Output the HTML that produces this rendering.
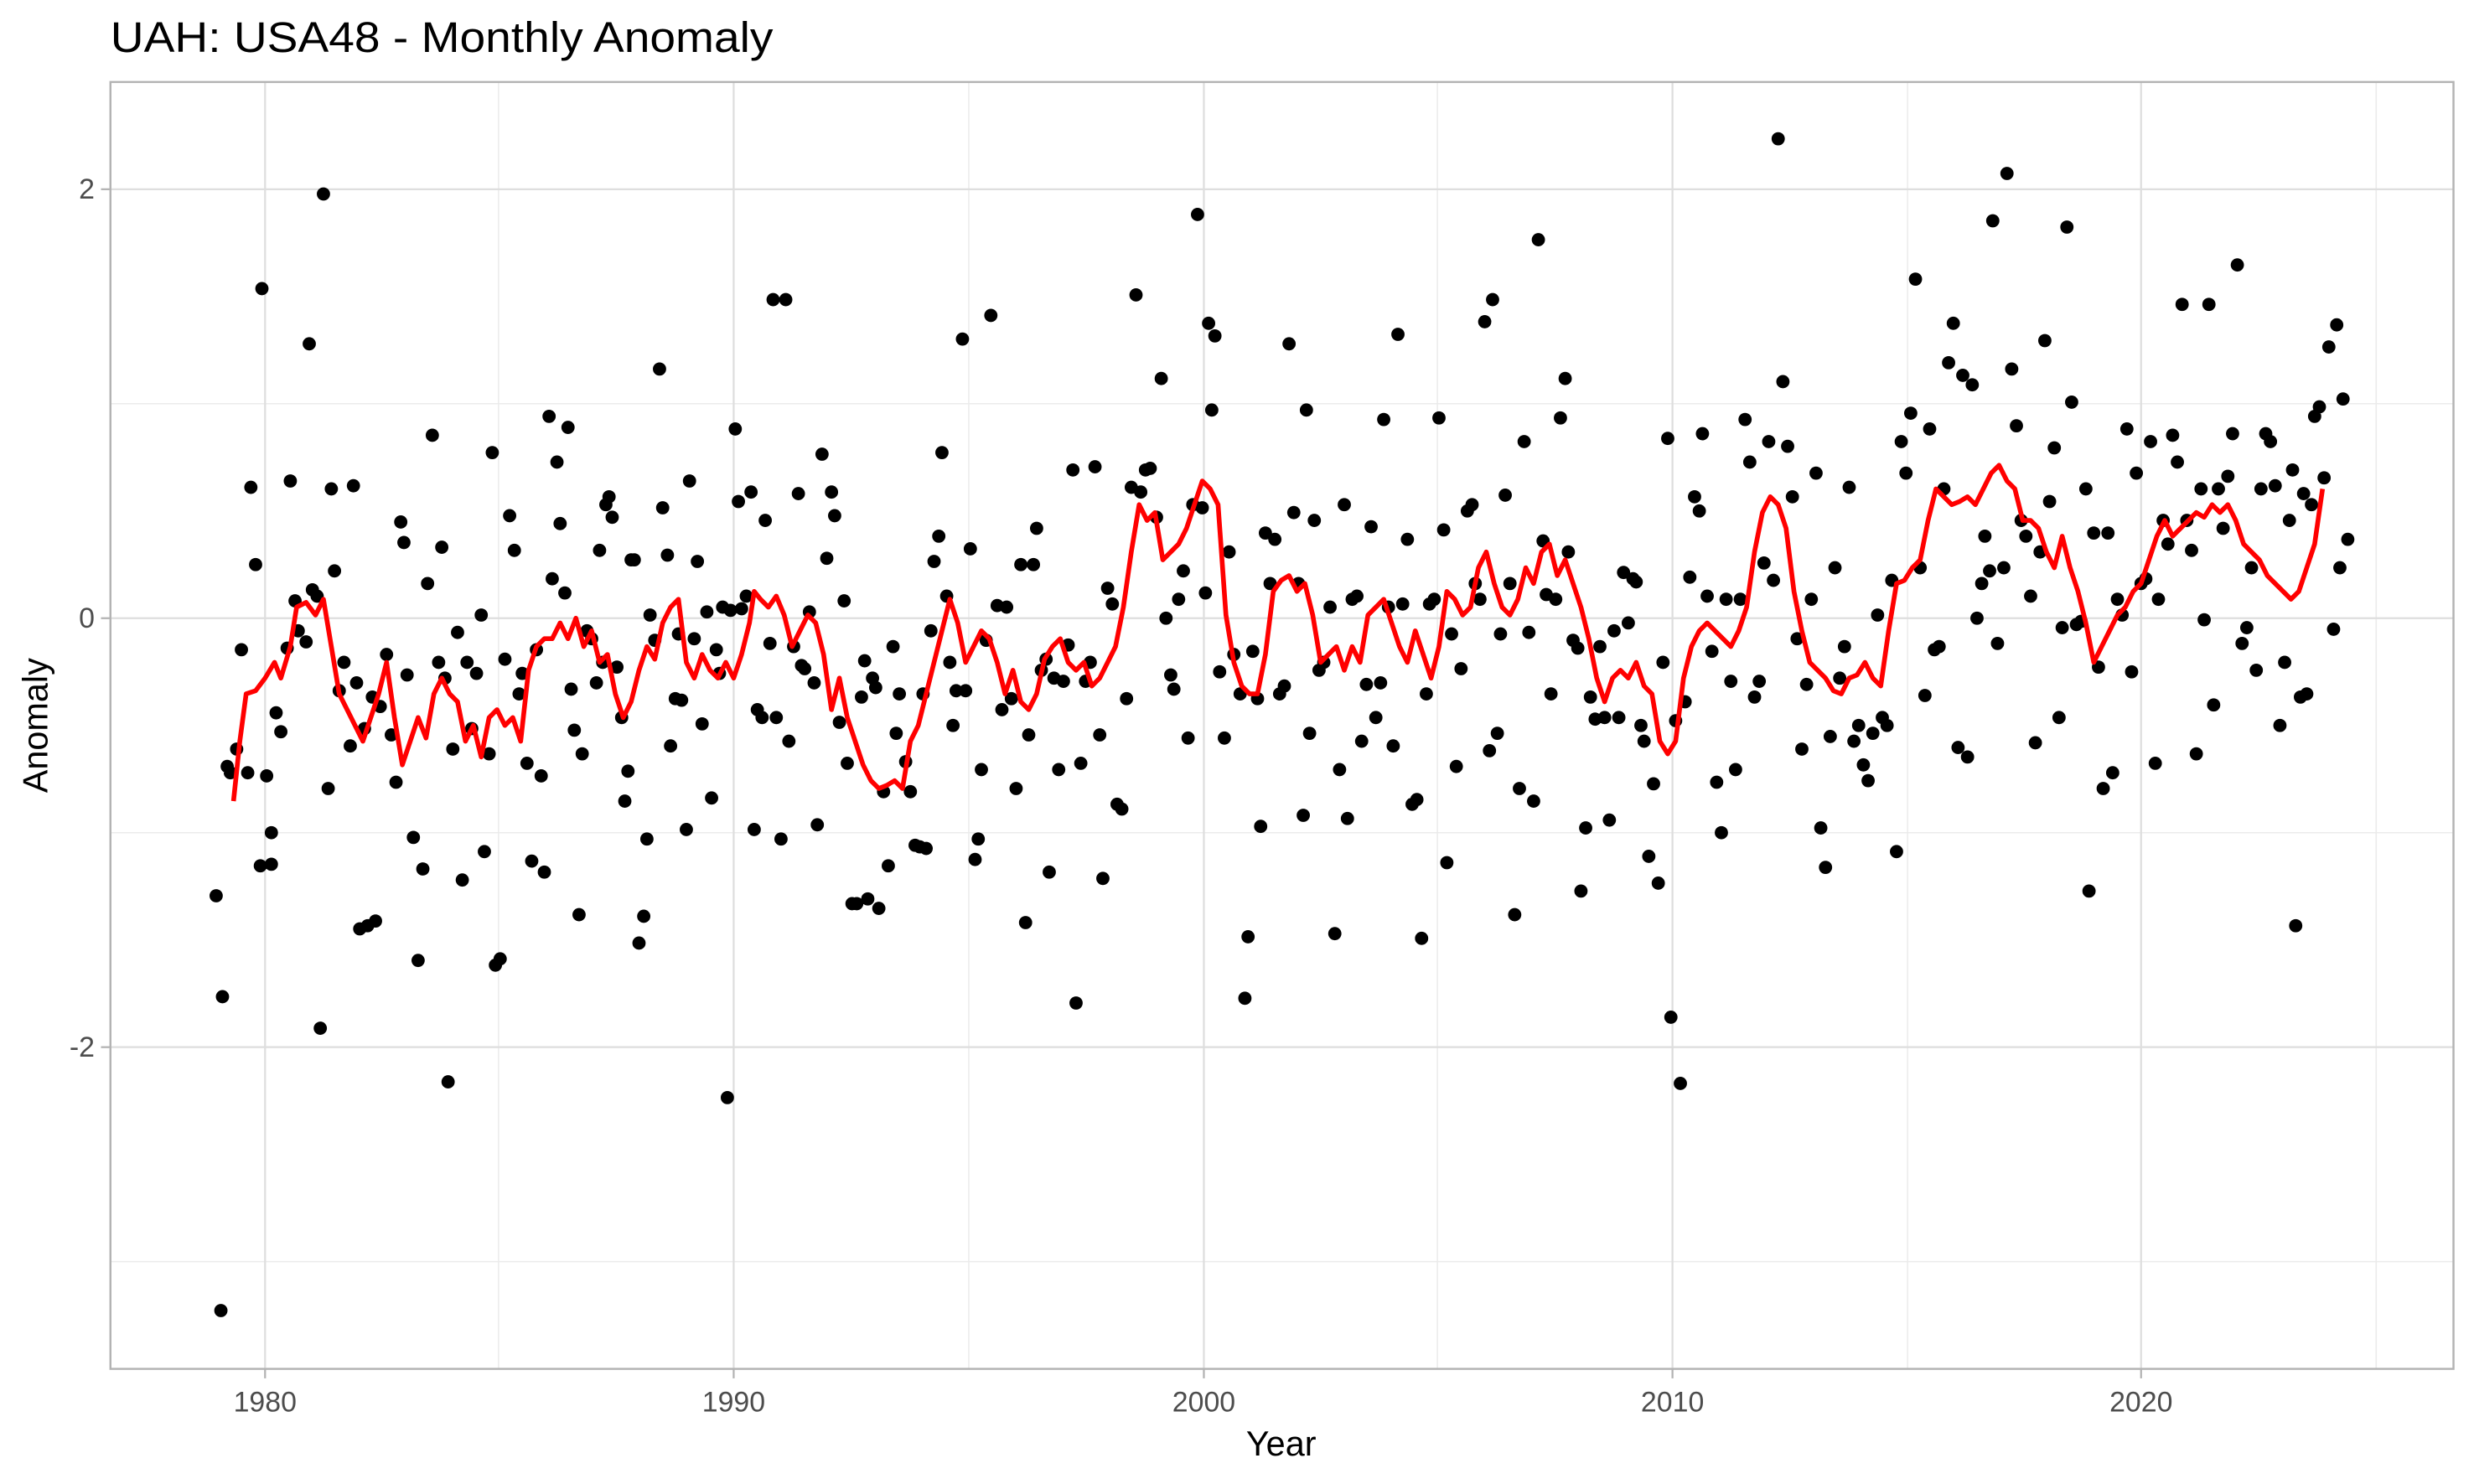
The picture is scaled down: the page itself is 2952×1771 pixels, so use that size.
<!DOCTYPE html>
<html><head><meta charset="utf-8"><style>html,body{margin:0;padding:0;background:#fff}svg{display:block}</style></head>
<body>
<svg xmlns="http://www.w3.org/2000/svg" width="2952" height="1771" viewBox="0 0 1568 941" preserveAspectRatio="none" font-family="Liberation Sans, sans-serif">
<rect width="1568" height="941" fill="#fff"/>
<g stroke="#ebebeb" stroke-width="0.8">
<line x1="70" x2="1555" y1="256" y2="256"/><line x1="70" x2="1555" y1="528" y2="528"/><line x1="70" x2="1555" y1="800" y2="800"/>
<line y1="52" y2="868" x1="316" x2="316"/><line y1="52" y2="868" x1="614" x2="614"/><line y1="52" y2="868" x1="911" x2="911"/><line y1="52" y2="868" x1="1209" x2="1209"/><line y1="52" y2="868" x1="1506" x2="1506"/>
</g>
<g stroke="#dedede" stroke-width="1.2">
<line x1="70" x2="1555" y1="120" y2="120"/><line x1="70" x2="1555" y1="392" y2="392"/><line x1="70" x2="1555" y1="664" y2="664"/>
<line y1="52" y2="868" x1="168" x2="168"/><line y1="52" y2="868" x1="465" x2="465"/><line y1="52" y2="868" x1="763" x2="763"/><line y1="52" y2="868" x1="1060" x2="1060"/><line y1="52" y2="868" x1="1357" x2="1357"/>
</g>
<rect x="70" y="52" width="1485" height="816" fill="none" stroke="#b3b3b3" stroke-width="1.3"/>
<g stroke="#b3b3b3" stroke-width="1.2">
<line x1="64" x2="70" y1="120" y2="120"/><line x1="64" x2="70" y1="392" y2="392"/><line x1="64" x2="70" y1="664" y2="664"/>
<line y1="868" y2="874" x1="168" x2="168"/><line y1="868" y2="874" x1="465" x2="465"/><line y1="868" y2="874" x1="763" x2="763"/><line y1="868" y2="874" x1="1060" x2="1060"/><line y1="868" y2="874" x1="1357" x2="1357"/>
</g>
<g fill="#4d4d4d" font-size="18">
<text x="60" y="126" text-anchor="end">2</text><text x="60" y="398" text-anchor="end">0</text><text x="60" y="670" text-anchor="end">-2</text>
<text x="168" y="895" text-anchor="middle">1980</text><text x="465" y="895" text-anchor="middle">1990</text><text x="763" y="895" text-anchor="middle">2000</text><text x="1060" y="895" text-anchor="middle">2010</text><text x="1357" y="895" text-anchor="middle">2020</text>
</g>
<text x="812" y="923" text-anchor="middle" font-size="22">Year</text>
<text transform="translate(30,460) rotate(-90)" text-anchor="middle" font-size="22">Anomaly</text>
<text x="70" y="33" font-size="27" textLength="420" lengthAdjust="spacingAndGlyphs">UAH: USA48 - Monthly Anomaly</text>
<path fill="none" stroke="#000" stroke-width="8.4" stroke-linecap="round" d="M137 568h0M141 632h0M140 831h0M144 486h0M146 490h0M150 475h0M153 412h0M157 490h0M159 309h0M162 358h0M165 549h0M166 183h0M169 492h0M172 548h0M172 528h0M175 452h0M178 464h0M182 411h0M184 305h0M187 381h0M189 400h0M194 407h0M196 218h0M198 374h0M201 378h0M203 652h0M205 123h0M208 500h0M210 310h0M212 362h0M215 438h0M218 420h0M222 473h0M224 308h0M226 433h0M228 589h0M231 462h0M233 587h0M236 442h0M238 584h0M241 448h0M245 415h0M248 466h0M251 496h0M254 331h0M256 344h0M258 428h0M262 531h0M265 609h0M268 551h0M271 370h0M274 276h0M278 420h0M280 347h0M282 430h0M284 686h0M287 475h0M290 401h0M293 558h0M296 420h0M299 462h0M302 427h0M305 390h0M307 540h0M310 478h0M312 287h0M314 612h0M317 608h0M320 418h0M323 327h0M326 349h0M329 440h0M331 427h0M334 484h0M337 546h0M340 412h0M343 492h0M345 553h0M348 264h0M350 367h0M353 293h0M355 332h0M358 376h0M360 271h0M362 437h0M364 463h0M367 580h0M369 478h0M372 400h0M375 405h0M378 433h0M380 349h0M382 420h0M384 320h0M386 315h0M388 328h0M391 423h0M394 455h0M396 508h0M398 489h0M400 355h0M402 355h0M405 598h0M408 581h0M410 532h0M412 390h0M415 406h0M418 234h0M420 322h0M423 352h0M425 473h0M428 443h0M430 402h0M432 444h0M435 526h0M437 305h0M440 405h0M442 356h0M445 459h0M448 388h0M451 506h0M454 412h0M456 427h0M458 385h0M461 696h0M463 387h0M466 272h0M468 318h0M470 386h0M473 378h0M476 312h0M478 526h0M480 450h0M483 455h0M485 330h0M488 408h0M490 190h0M492 455h0M495 532h0M498 190h0M500 470h0M503 410h0M506 313h0M508 422h0M510 424h0M513 388h0M516 433h0M518 523h0M521 288h0M524 354h0M527 312h0M529 327h0M532 458h0M535 381h0M537 484h0M540 573h0M543 573h0M546 442h0M548 419h0M550 570h0M553 430h0M555 436h0M557 576h0M560 502h0M563 549h0M566 410h0M568 465h0M570 440h0M574 483h0M577 502h0M580 536h0M583 537h0M585 440h0M587 538h0M590 400h0M592 356h0M595 340h0M597 287h0M600 378h0M602 420h0M604 460h0M606 438h0M610 215h0M612 438h0M615 348h0M618 545h0M620 532h0M622 488h0M625 406h0M628 200h0M632 384h0M635 450h0M638 385h0M641 443h0M644 500h0M647 358h0M650 585h0M652 466h0M655 358h0M657 335h0M660 425h0M663 418h0M665 553h0M668 430h0M671 488h0M674 432h0M677 409h0M680 298h0M682 636h0M685 484h0M688 432h0M691 420h0M694 296h0M697 466h0M699 557h0M702 373h0M705 383h0M708 510h0M711 513h0M714 443h0M717 309h0M720 187h0M723 312h0M726 298h0M729 297h0M733 328h0M736 240h0M739 392h0M742 428h0M744 437h0M747 380h0M750 362h0M753 468h0M756 320h0M759 136h0M762 322h0M764 376h0M766 205h0M768 260h0M770 213h0M773 426h0M776 468h0M779 350h0M782 415h0M786 440h0M789 633h0M791 594h0M794 413h0M797 443h0M799 524h0M802 338h0M805 370h0M808 342h0M811 440h0M814 435h0M817 218h0M820 325h0M823 370h0M826 517h0M828 260h0M830 465h0M833 330h0M836 425h0M839 420h0M843 385h0M846 592h0M849 488h0M852 320h0M854 519h0M857 380h0M860 378h0M863 470h0M866 434h0M869 334h0M872 455h0M875 433h0M877 266h0M880 385h0M883 473h0M886 212h0M889 383h0M892 342h0M895 510h0M898 507h0M901 595h0M904 440h0M906 383h0M909 380h0M912 265h0M915 336h0M917 547h0M920 402h0M923 486h0M926 424h0M930 324h0M933 320h0M935 370h0M938 380h0M941 204h0M944 476h0M946 190h0M949 465h0M951 402h0M954 314h0M957 370h0M960 580h0M963 500h0M966 280h0M969 401h0M972 508h0M975 152h0M978 343h0M980 377h0M983 440h0M986 380h0M989 265h0M992 240h0M994 350h0M997 406h0M1000 411h0M1002 565h0M1005 525h0M1008 442h0M1011 456h0M1014 410h0M1017 455h0M1020 520h0M1023 400h0M1026 455h0M1029 363h0M1032 395h0M1035 367h0M1037 369h0M1040 460h0M1042 470h0M1045 543h0M1048 497h0M1051 560h0M1054 420h0M1057 278h0M1059 645h0M1062 457h0M1065 687h0M1068 445h0M1071 366h0M1074 315h0M1077 324h0M1079 275h0M1082 378h0M1085 413h0M1088 496h0M1091 528h0M1094 380h0M1097 432h0M1100 488h0M1103 380h0M1106 266h0M1109 293h0M1112 442h0M1115 432h0M1118 357h0M1121 280h0M1124 368h0M1127 88h0M1130 242h0M1133 283h0M1136 315h0M1139 405h0M1142 475h0M1145 434h0M1148 380h0M1151 300h0M1154 525h0M1157 550h0M1160 467h0M1163 360h0M1166 430h0M1169 410h0M1172 309h0M1175 470h0M1178 460h0M1181 485h0M1184 495h0M1187 465h0M1190 390h0M1193 455h0M1196 460h0M1199 368h0M1202 540h0M1205 280h0M1208 300h0M1211 262h0M1214 177h0M1217 360h0M1220 441h0M1223 272h0M1226 412h0M1229 410h0M1232 310h0M1235 230h0M1238 205h0M1241 474h0M1244 238h0M1247 480h0M1250 244h0M1253 392h0M1256 370h0M1258 340h0M1261 362h0M1263 140h0M1266 408h0M1270 360h0M1272 110h0M1275 234h0M1278 270h0M1281 330h0M1284 340h0M1287 378h0M1290 471h0M1293 350h0M1296 216h0M1299 318h0M1302 284h0M1305 455h0M1307 398h0M1310 144h0M1313 255h0M1316 396h0M1319 394h0M1322 310h0M1324 565h0M1327 338h0M1330 423h0M1333 500h0M1336 338h0M1339 490h0M1342 380h0M1345 390h0M1348 272h0M1351 426h0M1354 300h0M1357 370h0M1360 367h0M1363 280h0M1366 484h0M1368 380h0M1371 330h0M1374 345h0M1377 276h0M1380 293h0M1383 193h0M1386 330h0M1389 349h0M1392 478h0M1395 310h0M1397 393h0M1400 193h0M1403 447h0M1406 310h0M1409 335h0M1412 302h0M1415 275h0M1418 168h0M1421 408h0M1424 398h0M1427 360h0M1430 425h0M1433 310h0M1436 275h0M1439 280h0M1442 308h0M1445 460h0M1448 420h0M1451 330h0M1453 298h0M1455 587h0M1458 442h0M1460 313h0M1462 440h0M1465 320h0M1467 264h0M1470 258h0M1473 303h0M1476 220h0M1479 399h0M1481 206h0M1483 360h0M1485 253h0M1488 342h0"/>
<polyline fill="none" stroke="#ff0000" stroke-width="3" stroke-linejoin="round" points="148,508 152,470 156,440 162,438 168,430 174,420 178,430 184,410 188,385 194,382 200,390 205,380 210,410 215,440 220,450 225,460 230,470 235,455 240,440 245,420 250,455 255,485 260,470 265,455 270,468 275,440 280,430 285,440 290,445 295,470 300,460 305,480 310,455 315,450 320,460 325,455 330,470 335,425 340,410 345,405 350,405 355,395 360,405 365,392 370,410 375,400 380,420 385,415 390,440 395,455 400,445 405,425 410,410 415,418 420,395 425,385 430,380 435,420 440,430 445,415 450,425 455,430 460,420 465,430 470,415 475,395 478,375 482,380 487,385 492,378 497,390 502,410 507,400 512,390 517,395 522,415 527,450 532,430 537,455 542,470 547,485 552,495 557,500 562,498 567,495 572,500 577,470 582,460 587,440 592,420 597,400 602,380 607,395 612,420 617,410 622,400 627,405 632,420 637,440 642,425 647,445 652,450 657,440 662,418 667,410 672,405 677,420 682,425 687,420 692,435 697,430 702,420 707,410 712,385 717,350 722,320 727,330 732,325 737,355 742,350 747,345 752,335 757,320 762,305 767,310 772,320 777,390 782,420 787,435 792,440 797,440 802,415 807,375 812,368 817,365 822,375 827,370 832,390 837,420 842,415 847,410 852,425 857,410 862,420 867,390 872,385 877,380 882,395 887,410 892,420 897,400 902,415 907,430 912,410 917,375 922,380 927,390 932,385 937,360 942,350 947,370 952,385 957,390 962,380 967,360 972,370 977,350 982,345 987,365 992,355 997,370 1002,385 1007,405 1012,430 1017,445 1022,430 1027,425 1032,430 1037,420 1042,435 1047,440 1052,470 1057,478 1062,470 1067,430 1072,410 1077,400 1082,395 1087,400 1092,405 1097,410 1102,400 1107,385 1112,350 1117,325 1122,315 1127,320 1132,335 1137,375 1142,400 1147,420 1152,425 1157,430 1162,438 1167,440 1172,430 1177,428 1182,420 1187,430 1192,435 1197,400 1202,370 1207,368 1212,360 1217,355 1222,330 1227,310 1232,315 1237,320 1242,318 1247,315 1252,320 1257,310 1262,300 1267,295 1272,305 1277,310 1282,330 1287,330 1292,335 1297,350 1302,360 1307,340 1312,360 1317,375 1322,395 1327,420 1332,410 1337,400 1342,390 1347,385 1352,375 1357,370 1362,355 1367,340 1372,330 1377,340 1382,335 1387,330 1392,325 1397,328 1402,320 1407,325 1412,320 1417,330 1422,345 1427,350 1432,355 1437,365 1442,370 1447,375 1452,380 1457,375 1462,360 1467,345 1472,310"/>
</svg>
</body></html>
